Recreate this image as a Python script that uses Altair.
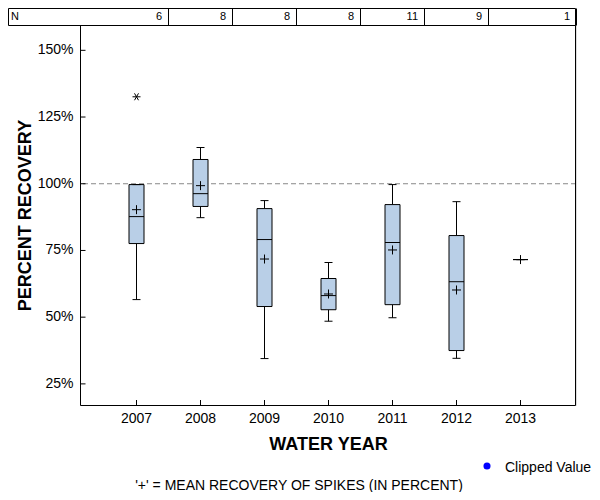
import altair as alt
import pandas as pd

# ---- data ----
years = [2007, 2008, 2009, 2010, 2011, 2012, 2013]
n_obs = [6, 8, 8, 8, 11, 9, 1]
q1 = [77.4, 91.3, 53.8, 52.6, 54.5, 37.3, 71.4]
med = [87.5, 96.1, 78.9, 57.9, 77.8, 63.1, 71.4]
q3 = [99.5, 108.9, 90.5, 64.3, 92.0, 80.4, 71.4]
whisk_lo = [56.4, 87.1, 34.3, 48.3, 49.6, 34.4, 71.4]
whisk_hi = [99.5, 113.4, 93.5, 70.3, 99.5, 93.1, 71.4]
mean_vals = [90.1, 99.1, 71.6, 58.5, 75.0, 60.0, 71.4]
outlier_years = [2007]
outlier_vals = [132.4]
y_ticks = [25, 50, 75, 100, 125, 150]
ref_value = [100]
x_min, x_max = 2006.125, 2013.875
y_min, y_max = 16.9, 159.3

W, H = 496, 380
FONT = "Liberation Sans"

box_df = pd.DataFrame(dict(year=years, n=n_obs, q1=q1, med=med, q3=q3,
                           wl=whisk_lo, wh=whisk_hi, mean=mean_vals))
box_df["cell_right"] = [y + 0.5 for y in years[:-1]] + [x_max]
out_df = pd.DataFrame(dict(year=outlier_years, v=outlier_vals))
yt_df = pd.DataFrame(dict(v=y_ticks))
ref_df = pd.DataFrame(dict(v=ref_value))
one = alt.Data(values=[{}])

xs = alt.Scale(domain=[x_min, x_max], nice=False, zero=False, padding=0)
ys = alt.Scale(domain=[y_min, y_max], nice=False, zero=False, padding=0)

x_axis = alt.Axis(values=years, format="d", title="WATER YEAR", grid=False,
                  ticks=False, tickSize=0, domain=False, labelPadding=6,
                  labelFontSize=14, labelColor="black", labelFont=FONT,
                  titleFontSize=18, titleFont=FONT, titleFontWeight="bold",
                  titleColor="black", titleY=44, titleBaseline="alphabetic")
y_axis = alt.Axis(values=y_ticks, labelExpr="datum.value + '%'", title="PERCENT RECOVERY",
                  grid=False, ticks=False, tickSize=0, domain=False, labelPadding=7,
                  labelFontSize=14, labelColor="black", labelFont=FONT,
                  titleFontSize=18, titleFont=FONT, titleFontWeight="bold",
                  titleColor="black", titleX=-50, titleBaseline="alphabetic")


def X(f):
    return alt.X(f, scale=xs, axis=x_axis)


def Y(f):
    return alt.Y(f, scale=ys, axis=y_axis)


base = alt.Chart(box_df)

wlo = base.mark_rule(color="black", strokeWidth=1, xOffset=0.5).encode(
    x=X("year:Q"), y=Y("wl:Q"), y2="q1:Q")
whi = base.mark_rule(color="black", strokeWidth=1, xOffset=0.5).encode(
    x=X("year:Q"), y=Y("q3:Q"), y2="wh:Q")
cap_lo = base.mark_tick(orient="horizontal", size=8, thickness=1, color="black", opacity=1,
                        xOffset=0.5).encode(x=X("year:Q"), y=Y("wl:Q"))
cap_hi = base.mark_tick(orient="horizontal", size=8, thickness=1, color="black", opacity=1,
                        xOffset=0.5).encode(x=X("year:Q"), y=Y("wh:Q"))
box = base.mark_bar(size=15, fill="#b9cfe7", stroke="black", strokeWidth=1, xOffset=0.5).encode(
    x=X("year:Q"), y=Y("q1:Q"), y2="q3:Q")
median = base.mark_tick(orient="horizontal", size=15, thickness=1, color="black", opacity=1,
                        xOffset=0.5).encode(x=X("year:Q"), y=Y("med:Q"))
plus = base.mark_point(shape="M-1,0L1,0M0,-1L0,1", size=81, filled=False,
                       stroke="black", strokeWidth=1, opacity=1, xOffset=0.5).encode(
    x=X("year:Q"), y=Y("mean:Q"))
star = alt.Chart(out_df).mark_point(
    shape="M-1,0L1,0M-0.5,-0.866L0.5,0.866M-0.5,0.866L0.5,-0.866",
    size=64, filled=False, stroke="black", strokeWidth=1, opacity=1, xOffset=0.5).encode(
    x=X("year:Q"), y=Y("v:Q"))
ref = alt.Chart(ref_df).mark_rule(color="#888888", strokeDash=[5, 3], strokeWidth=1,
                                  yOffset=0.5).encode(y=Y("v:Q"))

# inward ticks
ytk = alt.Chart(yt_df).mark_rule(color="black", strokeWidth=1, yOffset=0.5).encode(
    y=Y("v:Q"), x=alt.value(0.5), x2=alt.value(5.5))
xtk = base.mark_rule(color="black", strokeWidth=1, xOffset=0.5).encode(
    x=X("year:Q"), y=alt.value(H), y2=alt.value(H - 5))

# plot frame
frame = alt.Chart(one).mark_rect(fill="white", fillOpacity=0, stroke="black", strokeWidth=1).encode(
    x=alt.value(0.5), x2=alt.value(W - 0.5), y=alt.value(0.5), y2=alt.value(H + 0.5))

# N table
tbl = alt.Chart(one).mark_rect(fill="white", fillOpacity=0, stroke="black", strokeWidth=1).encode(
    x=alt.value(-71.5), x2=alt.value(W - 0.5), y=alt.value(-16.5), y2=alt.value(0.5))
divs = base.mark_rule(color="black", strokeWidth=1, xOffset=0.5).encode(
    x=X("cell_right:Q"), y=alt.value(-16.5), y2=alt.value(0.5))
counts = base.mark_text(align="right", baseline="middle", dx=-6, fontSize=11, font=FONT,
                        color="black").encode(
    x=X("cell_right:Q"), y=alt.value(-8), text="n:Q")
nlab = alt.Chart(one).mark_text(align="left", baseline="middle", fontSize=11, font=FONT,
                                color="black").encode(
    x=alt.value(-69), y=alt.value(-8), text=alt.value("N"))

# legend & footnote
dot = alt.Chart(one).mark_point(shape="circle", size=50, filled=True, color="#0000ff",
                                opacity=1).encode(x=alt.value(407), y=alt.value(441))
leg_txt = alt.Chart(one).mark_text(align="left", baseline="alphabetic", fontSize=14, font=FONT,
                                   color="black").encode(
    x=alt.value(425), y=alt.value(446.5), text=alt.value("Clipped Value"))
foot = alt.Chart(one).mark_text(align="center", baseline="alphabetic", fontSize=14, font=FONT,
                                color="black").encode(
    x=alt.value(219), y=alt.value(465),
    text=alt.value("'+' = MEAN RECOVERY OF SPIKES (IN PERCENT)"))

chart = alt.layer(
    wlo, whi, ref, box, median, cap_lo, cap_hi, plus, star, ytk, xtk, frame,
    tbl, divs, counts, nlab, dot, leg_txt, foot
).properties(
    width=W, height=H,
    autosize=alt.AutoSizeParams(type="none"),
    padding={"left": 72, "top": 17, "right": 16, "bottom": 87},
).configure_view(
    stroke=None
).configure(
    font=FONT, background="white"
)

chart.save("out.html", embed_options={"renderer": "svg", "actions": False})
